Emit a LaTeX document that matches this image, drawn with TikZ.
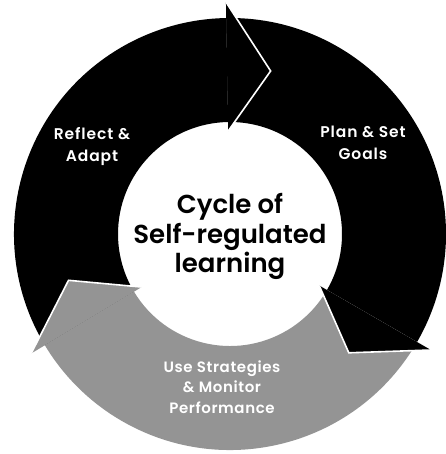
\documentclass[tikz,border=0pt]{standalone}
\usepackage{fontspec}
\setmainfont{Poppins}[BoldFont={Poppins SemiBold}]
\usetikzlibrary{calc}
\definecolor{stipple}{gray}{0.58}
\tikzset{
  segblack/.style={fill=black},
  seggrey/.style={fill=stipple},
  gapline/.style={draw=white,line width=1.6pt,line join=miter},
  sidelabel/.style={text=white,font=\fontsize{15.5}{22}\selectfont\bfseries\addfontfeatures{LetterSpace=6},align=center,inner sep=0pt},
  greylabel/.style={text=white,font=\fontsize{15}{20.5}\selectfont\bfseries\addfontfeatures{LetterSpace=4},align=center,inner sep=0pt},
  centerlabel/.style={text=black,font=\fontsize{26}{29.5}\selectfont\bfseries,align=center,inner sep=0pt}
}
\begin{document}
\begin{tikzpicture}[x=1pt,y=1pt]
\useasboundingbox (0,0) rectangle (445,-454);
\coordinate (C) at (230,-234);
\def\Rout{216}\def\Rin{112}\def\Bout{232}\def\Bin{103}\def\Rtip{168}
% segment bodies
\fill[segblack] ($(C)+(211:\Rout)$) arc[start angle=211,end angle=91,radius=\Rout] -- ($(C)+(91:\Rin)$) arc[start angle=91,end angle=211,radius=\Rin] -- cycle;
\fill[segblack] ($(C)+(91:\Rout)$) arc[start angle=91,end angle=-30,radius=\Rout] -- ($(C)+(-30:\Rin)$) arc[start angle=-30,end angle=91,radius=\Rin] -- cycle;
\fill[seggrey] ($(C)+(-30:\Rout)$) arc[start angle=-30,end angle=-149,radius=\Rout] -- ($(C)+(-149:\Rin)$) arc[start angle=-149,end angle=-30,radius=\Rin] -- cycle;
% arrowheads
\foreach \b/\sty/\n in {91/segblack/a, -30/segblack/b, 211/seggrey/c}{
  \pgfmathsetmacro{\t}{\b-15}
  \coordinate (ob\n) at ($(C)+(\b:\Bout)$);
  \coordinate (tp\n) at ($(C)+(\t:\Rtip)$);
  \coordinate (ib\n) at ($(C)+(\b:\Bin)$);
  \fill[\sty] (ob\n) -- (tp\n) -- (ib\n) -- cycle;
  \draw[gapline] (ob\n) -- (tp\n) -- (ib\n);
}
% labels
\node[sidelabel] (reflect) at (92,-146.5) {Reflect \&\\Adapt};
\node[sidelabel] (plan) at (363,-142.5) {Plan \& Set\\Goals};
\node[greylabel] (monitor) at (222,-387) {Use Strategies\\\& Monitor\\Performance};
\node[centerlabel] (cycle) at (230,-236.5) {Cycle of\\Self-regulated\\learning};
\end{tikzpicture}
\end{document}
